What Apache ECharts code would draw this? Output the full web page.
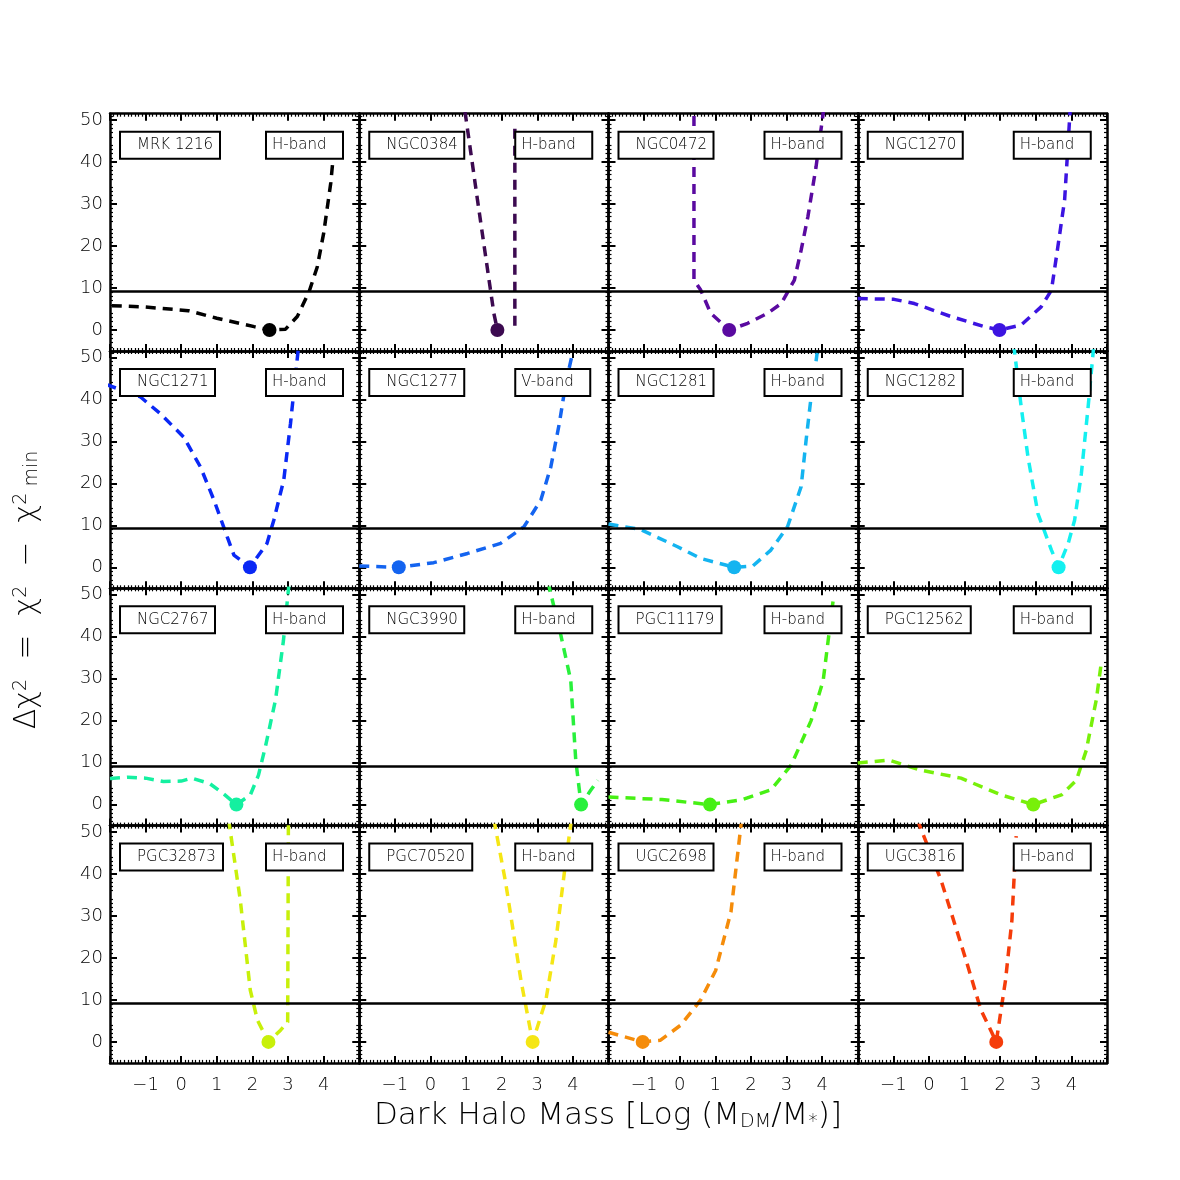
<!DOCTYPE html>
<html>
<head>
<meta charset="utf-8">
<script src="https://cdn.jsdelivr.net/npm/echarts@6/dist/echarts.min.js"></script>
<style>
  html, body { margin: 0; background: #fff; }
  #chart { width: 1180px; height: 1180px; }
</style>
</head>
<body>
<div id="chart"></div>
<script>
// panel labels
const names = ['MRK 1216', 'NGC0384', 'NGC0472', 'NGC1270',
               'NGC1271', 'NGC1277', 'NGC1281', 'NGC1282',
               'NGC2767', 'NGC3990', 'PGC11179', 'PGC12562',
               'PGC32873', 'PGC70520', 'UGC2698', 'UGC3816']
const bands = ['H-band', 'H-band', 'H-band', 'H-band',
               'H-band', 'V-band', 'H-band', 'H-band',
               'H-band', 'H-band', 'H-band', 'H-band',
               'H-band', 'H-band', 'H-band', 'H-band']
const colors = ['#000000', '#3c0a50', '#5a0aa0', '#3c14e1',
                '#0a28f5', '#1464f0', '#14b4f0', '#14f0f0',
                '#14f0a0', '#28f03c', '#46f014', '#78f00a',
                '#c8f00a', '#f5e614', '#f58c0a', '#f53c0a']

const xTicks = [-1, 0, 1, 2, 3, 4]
const yTicks = [0, 10, 20, 30, 40, 50]
const threshold = 9.21

// delta chi2 curves, [log(Mdm/M*), delta chi2]
const mrk1216 = [[-1.95, 5.8], [-1.05, 5.5], [0.2, 4.6], [1.0, 2.8], [2.05, 0.8], [2.48, 0], [2.93, 0.2], [3.26, 3.2], [3.59, 9.1], [3.82, 15], [4.0, 23], [4.2, 35], [4.34, 47.6]]
const ngc0384 = [[0.97, 52], [1.32, 31], [1.78, 4], [1.88, 0], [2.1, '-'], [2.37, 1], [2.37, 48.5]]
const ngc0472 = [[0.4, 55], [0.4, 11.9], [0.59, 9.5], [0.87, 4], [1.39, 0], [1.91, 1.6], [2.47, 4], [2.85, 6.3], [3.22, 11.9], [3.41, 19], [3.6, 27], [3.83, 38.9], [4.05, 53]]
const ngc1270 = [[-2, 7.5], [-0.98, 7.3], [-0.41, 6.3], [0.62, 3.2], [1.56, 0.8], [1.98, 0], [2.59, 1.2], [3.15, 5.5], [3.44, 9.5], [3.62, 19.8], [3.81, 31], [3.97, 53]]
const ngc1271 = [[-2.1, 43.5], [-1.15, 40.6], [-0.59, 36.6], [0.07, 31], [0.54, 23.9], [0.92, 16], [1.29, 7.3], [1.48, 2.9], [1.93, 0], [2.41, 5.7], [2.6, 11.2], [2.88, 20.8], [3.07, 34.3], [3.3, 53]]
const ngc1277 = [[-2, 0.3], [-0.89, 0], [0.09, 1.1], [1.04, 3.3], [1.97, 5.7], [2.63, 9.7], [3.1, 16], [3.38, 23.9], [3.62, 34.3], [3.8, 43.8], [3.99, 51]]
const ngc1281 = [[-2, 10.3], [-1.1, 9], [-0.06, 4.9], [0.59, 2.1], [1.53, 0], [2.05, 0.3], [2.56, 4.1], [3.03, 9.7], [3.41, 19.2], [3.55, 30.3], [3.69, 40.6], [3.86, 51]]
const ngc1282 = [[2.38, 53], [2.59, 38.2], [2.78, 26.3], [3.06, 12.8], [3.44, 4.1], [3.64, 0], [3.91, 5.7], [4.09, 11.2], [4.28, 22.3], [4.47, 38.2], [4.62, 52]]
const ngc2767 = [[-2, 6.2], [-1.5, 6.5], [-1, 6.3], [-0.5, 5.5], [0, 5.6], [0.3, 6.3], [0.8, 5], [1.2, 2.5], [1.55, 0], [1.94, 2.3], [2.17, 7], [2.37, 14], [2.65, 25], [2.87, 39], [3.02, 52]]
const ngc3990 = [[3.3, 53], [3.66, 40.4], [3.94, 29.6], [4.08, 10.6], [4.23, 0], [4.5, 3.4], [4.7, 5.8]]
const pgc11179 = [[-2, 1.8], [-0.5, 1.2], [0.85, 0], [1.72, 1.1], [2.56, 3.5], [3.13, 9.4], [3.69, 20], [4.03, 29.6], [4.31, 48.7]]
const pgc12562 = [[-2, 9.9], [-1.13, 10.6], [-0.23, 8.2], [0.9, 6.3], [2.03, 2.3], [2.93, 0], [3.72, 2.3], [4.14, 5.8], [4.42, 13], [4.7, 25], [4.85, 34.4]]
const pgc32873 = [[1.33, 53], [1.66, 33.7], [1.94, 12.3], [2.14, 5.2], [2.45, 0], [2.79, 2.8], [2.99, 4.7], [3.01, 52]]
const pgc70520 = [[1.78, 53], [2.11, 38], [2.54, 14.7], [2.87, 0], [3.24, 9.9], [3.52, 24], [3.8, 43], [3.96, 53]]
const ugc2698 = [[-2, 2.3], [-1.04, 0], [-0.54, 0.4], [0.03, 4], [0.59, 10], [1.01, 17], [1.44, 31], [1.74, 53]]
const ugc3816 = [[-0.33, 53], [0.34, 38.5], [1.04, 19.5], [1.46, 7.6], [1.89, 0], [2.15, 14.7], [2.33, 29], [2.45, 49]]

const curves = [mrk1216, ngc0384, ngc0472, ngc1270,
                ngc1271, ngc1277, ngc1281, ngc1282,
                ngc2767, ngc3990, pgc11179, pgc12562,
                pgc32873, pgc70520, ugc2698, ugc3816]

const FONT = 'DejaVu Sans'
const FW = 200
const L0 = 110, T0 = 113.7, W = 249.25, H = 237.3

const chart = echarts.init(document.getElementById('chart'))

const grid = [], xAxis = [], yAxis = [], series = [], title = []

function xAx(i, pos, labels) {
  return {
    gridIndex: i, type: 'value', min: -2, max: 5, interval: 1, position: pos,
    axisLine: { show: true, onZero: false, lineStyle: { color: '#000', width: 2.5 } },
    axisTick: { show: true, inside: true, length: 7, lineStyle: { color: '#000', width: 2 } },
    minorTick: { show: true, splitNumber: 10, length: 3, lineStyle: { color: '#000', width: 1.2 } },
    splitLine: { show: false },
    axisLabel: {
      show: labels, customValues: xTicks, margin: 13, fontSize: 18, color: '#000',
      fontFamily: FONT, fontWeight: FW,
      formatter: v => String(v).replace('-', '\u2212')
    }
  }
}

function yAx(i, pos, labels) {
  return {
    gridIndex: i, type: 'value', min: -5, max: 51.5, interval: 5, position: pos,
    axisLine: { show: true, onZero: false, lineStyle: { color: '#000', width: 2.5 } },
    axisTick: { show: true, inside: true, length: 7, customValues: yTicks, lineStyle: { color: '#000', width: 2 } },
    minorTick: { show: true, splitNumber: 5, length: 3, lineStyle: { color: '#000', width: 1.2 } },
    splitLine: { show: false },
    axisLabel: {
      show: labels, customValues: yTicks, margin: 7, fontSize: 18, color: '#000',
      fontFamily: FONT, fontWeight: FW
    }
  }
}

for (let i = 0; i < 16; i++) {
  const row = Math.floor(i / 4), col = i % 4
  const L = L0 + col * W, T = T0 + row * H
  grid.push({ left: L, top: T, width: W, height: H })
  xAxis.push(xAx(i, 'bottom', row === 3), xAx(i, 'top', false))
  yAxis.push(yAx(i, 'left', col === 0), yAx(i, 'right', false))

  series.push({
    type: 'line', xAxisIndex: 2 * i, yAxisIndex: 2 * i,
    data: curves[i], symbol: 'none', clip: true, animation: false,
    lineStyle: { color: colors[i], width: 3.5, type: [10, 7] },
    markLine: {
      silent: true, symbol: 'none', animation: false, label: { show: false },
      lineStyle: { color: '#000', type: 'solid', width: 2.5 },
      data: [{ yAxis: threshold }]
    }
  })
  // best fit point
  const best = curves[i].find(p => p[1] === 0)
  series.push({
    type: 'scatter', xAxisIndex: 2 * i, yAxisIndex: 2 * i,
    data: [best], symbolSize: 14, animation: false,
    itemStyle: { color: colors[i], opacity: 1 }
  })

  const box = {
    borderColor: '#000', borderWidth: 2, backgroundColor: '#fff',
    textStyle: { fontSize: 15, fontWeight: FW, color: '#000', fontFamily: FONT, lineHeight: 17 }
  }
  title.push(Object.assign({ text: names[i], left: L + 10, top: T + 18, padding: [5, 7, 5, 17] }, box))
  title.push(Object.assign({ text: bands[i], left: L + 156, top: T + 18, padding: [5, 17, 5, 6] }, box))
}

chart.setOption({
  animation: false,
  title: title,
  grid: grid,
  xAxis: xAxis,
  yAxis: yAxis,
  series: series,
  graphic: [
    {
      type: 'text', x: 608, y: 1116,
      style: {
        text: 'Dark Halo Mass [Log (M{sub|DM}/M{sub|*})]',
        fontSize: 31, fontFamily: FONT, fontWeight: FW, fill: '#000', align: 'center', verticalAlign: 'middle',
        rich: { sub: { fontSize: 19, fontFamily: FONT, fontWeight: FW, verticalAlign: 'bottom', lineHeight: 12 } }
      }
    },
    {
      type: 'text', x: 27, y: 590, rotation: Math.PI / 2,
      style: {
        text: '\u0394\u03c7{sup|2}  =  \u03c7{sup|2}  \u2212  \u03c7{sup|2}{sub| min}',
        fontSize: 30, fontFamily: FONT, fontWeight: FW, fill: '#000', align: 'center', verticalAlign: 'middle',
        rich: {
          sup: { fontSize: 19, fontFamily: FONT, fontWeight: FW, verticalAlign: 'top', lineHeight: 12 },
          sub: { fontSize: 19, fontFamily: FONT, fontWeight: FW, verticalAlign: 'bottom', lineHeight: 12 }
        }
      }
    }
  ]
})
</script>
</body>
</html>
